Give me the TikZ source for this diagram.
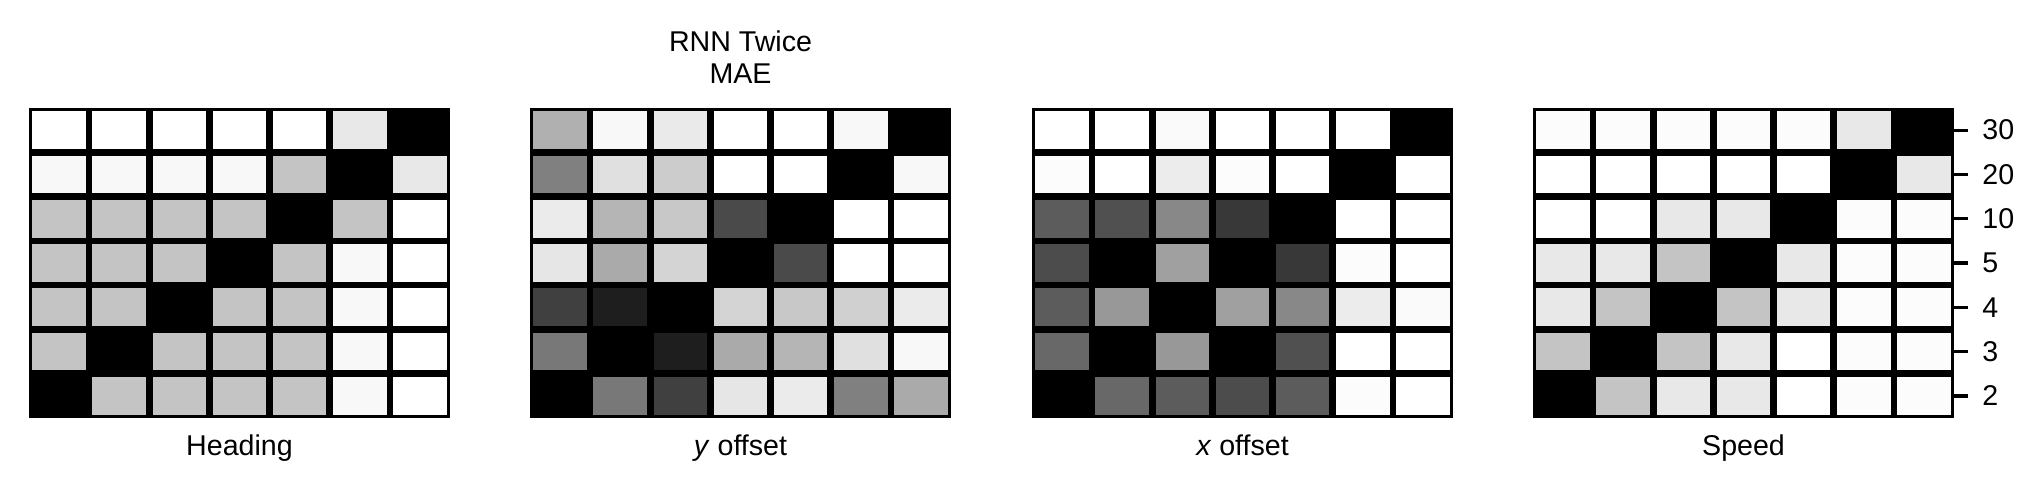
\documentclass[tikz,border=0pt]{standalone}
\usepackage{fontspec}
\setmainfont{Liberation Sans}
\begin{document}
\begin{tikzpicture}[x=0.5pt,y=-0.5pt,font=\fontsize{14.3}{17}\selectfont]
\pgfmathsetmacro{\cw}{421/7};
\pgfmathsetmacro{\ch}{310/7};
\pgfmathsetmacro{\gap}{3.3};

\useasboundingbox (0,0) rectangle (2043,495);

% Heading
\begin{scope}[shift={(29,108)}]
\fill[black] (0,0) rectangle (421,310);
\foreach \rowvals [count=\r from 0] in {
  {255,255,255,255,255,232,0},
  {248,248,248,248,196,0,232},
  {196,196,196,196,0,196,255},
  {196,196,196,0,196,248,255},
  {196,196,0,196,196,248,255},
  {196,0,196,196,196,248,255},
  {0,196,196,196,196,248,255}}
  \foreach \g [count=\c from 0] in \rowvals {
    \pgfmathsetmacro{\gv}{\g/255}
    \definecolor{cellgray}{gray}{\gv}
    \fill[cellgray] ({\c*\cw+\gap},{\r*\ch+\gap}) rectangle ({(\c+1)*\cw-\gap},{(\r+1)*\ch-\gap});
  }
\node[anchor=base] (heading) at (210.5,347) {Heading};
\end{scope}


% y offset
\begin{scope}[shift={(530,108)}]
\fill[black] (0,0) rectangle (421,310);
\foreach \rowvals [count=\r from 0] in {
  {176,248,234,255,255,248,0},
  {128,224,204,255,255,0,248},
  {235,181,200,74,0,255,255},
  {230,170,212,0,74,255,255},
  {64,30,0,212,200,208,235},
  {120,0,30,170,181,224,248},
  {0,120,64,230,235,128,170}}
  \foreach \g [count=\c from 0] in \rowvals {
    \pgfmathsetmacro{\gv}{\g/255}
    \definecolor{cellgray}{gray}{\gv}
    \fill[cellgray] ({\c*\cw+\gap},{\r*\ch+\gap}) rectangle ({(\c+1)*\cw-\gap},{(\r+1)*\ch-\gap});
  }
\node[anchor=base] (titletop) at (210.5,-56.3) {RNN Twice};
\node[anchor=base] (titlebot) at (210.5,-24.7) {MAE};
\node[anchor=base] (yoffset) at (210.5,347) {\textit{y} offset};
\end{scope}


% x offset
\begin{scope}[shift={(1032,108)}]
\fill[black] (0,0) rectangle (421,310);
\foreach \rowvals [count=\r from 0] in {
  {255,255,250,255,255,255,0},
  {252,255,236,252,255,0,255},
  {92,80,136,56,0,255,255},
  {76,0,160,0,56,252,255},
  {92,152,0,160,136,236,250},
  {104,0,152,0,80,255,255},
  {0,104,92,76,92,252,255}}
  \foreach \g [count=\c from 0] in \rowvals {
    \pgfmathsetmacro{\gv}{\g/255}
    \definecolor{cellgray}{gray}{\gv}
    \fill[cellgray] ({\c*\cw+\gap},{\r*\ch+\gap}) rectangle ({(\c+1)*\cw-\gap},{(\r+1)*\ch-\gap});
  }
\node[anchor=base] (xoffset) at (210.5,347) {\textit{x} offset};
\end{scope}


% Speed
\begin{scope}[shift={(1533,108)}]
\fill[black] (0,0) rectangle (421,310);
\foreach \rowvals [count=\r from 0] in {
  {252,252,252,252,252,232,0},
  {255,255,255,255,255,0,232},
  {255,255,232,232,0,252,252},
  {232,232,196,0,232,252,252},
  {232,196,0,196,232,252,252},
  {196,0,196,232,255,252,252},
  {0,196,232,232,255,252,252}}
  \foreach \g [count=\c from 0] in \rowvals {
    \pgfmathsetmacro{\gv}{\g/255}
    \definecolor{cellgray}{gray}{\gv}
    \fill[cellgray] ({\c*\cw+\gap},{\r*\ch+\gap}) rectangle ({(\c+1)*\cw-\gap},{(\r+1)*\ch-\gap});
  }
\node[anchor=base] (speed) at (210.5,347) {Speed};

\foreach \t [count=\r from 0] in {30,20,10,5,4,3,2} {
  \coordinate (tick\t) at (421,{(\r+0.5)*\ch});
  \node[anchor=west,inner sep=0pt] (lab\t) at (449,{(\r+0.5)*\ch}) {\t};
  \draw[line width=1.65pt] (tick\t) -- ++(14,0);
}
\end{scope}

\end{tikzpicture}
\end{document}
